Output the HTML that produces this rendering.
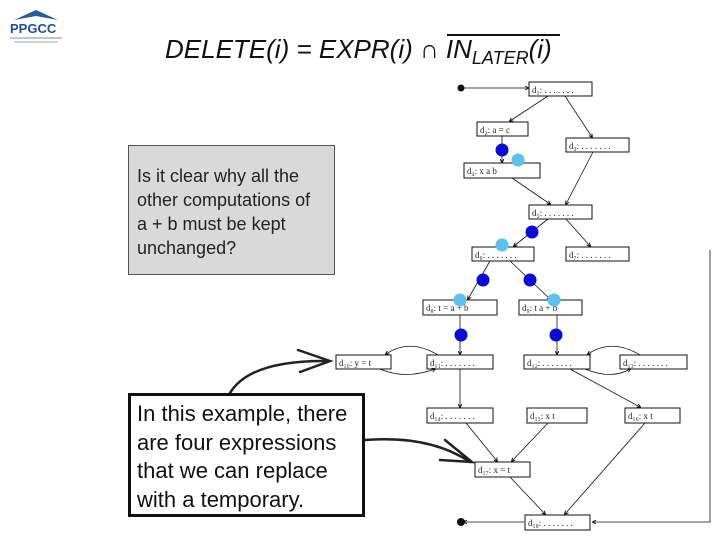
<!DOCTYPE html>
<html><head><style>
body{margin:0;width:720px;height:540px;background:#fff;position:relative;overflow:hidden;font-family:"Liberation Sans",sans-serif}
.t{position:absolute;left:165px;top:34px;font-size:26px;font-style:italic;color:#111;white-space:nowrap}
.b1{position:absolute;left:128px;top:145px;width:207px;height:130px;background:#d9d9d9;border:1px solid #555;box-sizing:border-box;padding:18px 8px;font-size:18px;line-height:24px;color:#222;white-space:nowrap}
.b2{position:absolute;left:128px;top:393px;width:237px;height:124px;background:#fff;border:3px solid #111;box-sizing:border-box;padding:4px 6px;font-size:22px;line-height:28.5px;color:#111;white-space:nowrap}
</style></head><body>
<div style="position:absolute;left:6px;top:6px;width:60px;height:40px">
<svg width="60" height="40"><path d="M8 14 L30 4 L52 14 L30 10Z" fill="#2a5a9a"/><text x="4" y="27" font-size="13" font-weight="bold" fill="#1f4f9a" font-family="Liberation Sans">PPGCC</text><line x1="4" y1="32" x2="56" y2="32" stroke="#7a8ab0"/><line x1="8" y1="36" x2="52" y2="36" stroke="#9aa" /></svg></div>
<div class="t">DELETE(i) = EXPR(i) ∩ IN<sub style="font-size:18px">LATER</sub>(i)</div>
<svg style="position:absolute;left:0;top:0" width="720" height="540">
<line x1="447" y1="35" x2="560" y2="35" stroke="#111" stroke-width="2"/>
<defs><marker id="A" markerWidth="5" markerHeight="5" refX="4" refY="2.5" orient="auto"><path d="M0 0L5 2.5L0 5" fill="none" stroke="#111" stroke-width="1.2"/></marker></defs>
<g fill="#fff" stroke="#111" stroke-width="1">
<rect x="529" y="82" width="63" height="14"/><rect x="477" y="122" width="51" height="14"/>
<rect x="566" y="138" width="63" height="14"/><rect x="464" y="163" width="76" height="15"/>
<rect x="529" y="205" width="63" height="14"/><rect x="472" y="247" width="62" height="14"/>
<rect x="566" y="247" width="63" height="14"/><rect x="423" y="300" width="74" height="15"/>
<rect x="519" y="300" width="63" height="15"/><rect x="336" y="355" width="55" height="14"/>
<rect x="427" y="355" width="66" height="14"/><rect x="524" y="355" width="66" height="14"/>
<rect x="620" y="355" width="67" height="14"/><rect x="427" y="408" width="66" height="15"/>
<rect x="527" y="408" width="60" height="15"/><rect x="625" y="408" width="55" height="15"/>
<rect x="475" y="462" width="55" height="15"/><rect x="525" y="515" width="65" height="15"/>
</g>
<g font-size="9" font-family="Liberation Serif" fill="#222">
<text x="532" y="93">d₁: . . . . . . .</text><text x="480" y="133">d₂: a = c</text>
<text x="569" y="149">d₃: . . . . . . .</text><text x="467" y="174">d₄: x   a   b</text>
<text x="532" y="216">d₅: . . . . . . .</text><text x="475" y="258">d₆: . . . . . . .</text>
<text x="569" y="258">d₇: . . . . . . .</text><text x="426" y="311">d₈: t = a + b</text>
<text x="522" y="311">d₉: t   a + b</text><text x="339" y="366">d₁₀: y = t</text>
<text x="430" y="366">d₁₁: . . . . . . .</text><text x="527" y="366">d₁₂: . . . . . . .</text>
<text x="623" y="366">d₁₃: . . . . . . .</text><text x="430" y="419">d₁₄: . . . . . . .</text>
<text x="530" y="419">d₁₅: x    t</text><text x="628" y="419">d₁₆: x    t</text>
<text x="478" y="473">d₁₇: x = t</text><text x="528" y="526">d₁₈: . . . . . . .</text>
</g>
<g stroke="#111" stroke-width="0.8" fill="none" marker-end="url(#A)">
<line x1="461" y1="88" x2="528" y2="88"/>
<line x1="548" y1="96" x2="510" y2="121"/><line x1="565" y1="96" x2="592" y2="137"/>
<line x1="502" y1="136" x2="502" y2="162"/><line x1="512" y1="178" x2="550" y2="204"/>
<line x1="593" y1="152" x2="566" y2="204"/>
<line x1="548" y1="219" x2="514" y2="246"/><line x1="566" y1="219" x2="590" y2="246"/>
<line x1="490" y1="261" x2="468" y2="299"/><line x1="510" y1="261" x2="550" y2="299"/>
<line x1="460" y1="315" x2="460" y2="354"/><line x1="557" y1="315" x2="557" y2="354"/>
<path d="M438 355 Q410 338 386 354"/><path d="M380 369 Q405 380 435 369"/>
<path d="M640 355 Q612 338 588 354"/><path d="M585 369 Q612 380 630 369"/>
<line x1="460" y1="369" x2="460" y2="407"/><line x1="570" y1="369" x2="640" y2="407"/>
<line x1="466" y1="423" x2="497" y2="461"/><line x1="548" y1="423" x2="512" y2="461"/>
<line x1="645" y1="423" x2="565" y2="514"/><line x1="510" y1="477" x2="545" y2="514"/>
<line x1="524" y1="522" x2="464" y2="522"/>
<polyline points="710,250 710,522 593,522"/>
</g>
<circle cx="461" cy="88" r="3.5" fill="#111"/><circle cx="461" cy="522" r="4" fill="#111"/>
<g fill="#0b0bd8"><circle cx="502" cy="150" r="6.5"/><circle cx="532" cy="232" r="6.5"/><circle cx="483" cy="280" r="6.5"/><circle cx="530" cy="280" r="6.5"/><circle cx="461" cy="335" r="6.5"/><circle cx="556" cy="335" r="6.5"/></g>
<g fill="#5cc0f0"><circle cx="518" cy="160" r="6.5"/><circle cx="502" cy="245" r="6.5"/><circle cx="460" cy="300" r="6.5"/><circle cx="554" cy="300" r="6.5"/></g>
<g stroke="#222" stroke-width="2.5" fill="none" stroke-linecap="round">
<path d="M230 393 Q250 360 328 361"/><path d="M298 350 L330 361 L300 372"/>
<path d="M365 440 Q430 435 470 462"/><path d="M445 440 L472 462 L440 460"/>
</g>
</svg>
<div class="b1">Is it clear why all the<br>other computations of<br>a + b must be kept<br>unchanged?</div>
<div class="b2">In this example, there<br>are four expressions<br>that we can replace<br>with a temporary.</div>
</body></html>
